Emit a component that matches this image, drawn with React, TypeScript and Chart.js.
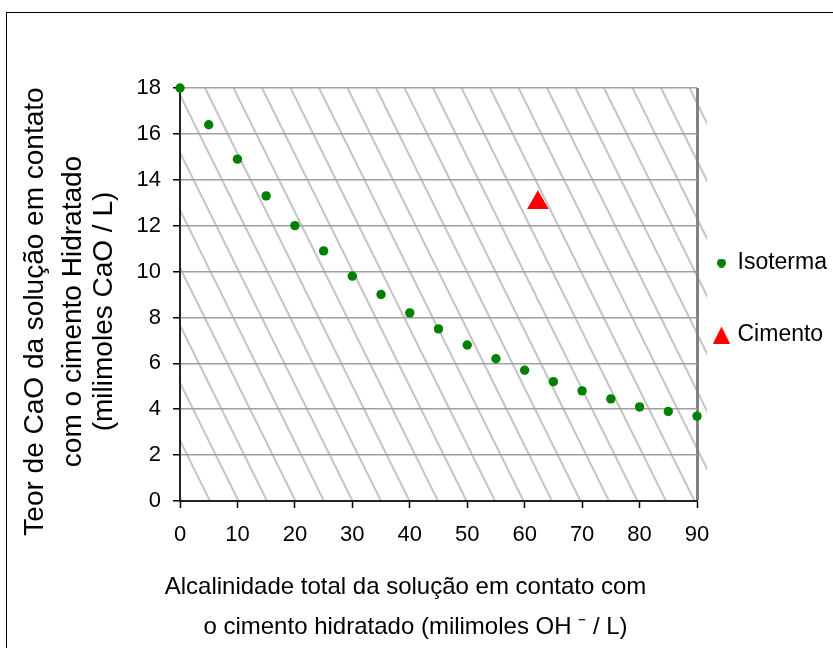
import React, { useEffect, useRef } from "react";
import { Chart, registerables } from "chart.js";

Chart.register(...registerables);

const FONT = "'Liberation Sans', Arial, sans-serif";

// ---- data ----
const isotermaX = [0, 5, 10, 15, 20, 25, 30, 35, 40, 45, 50, 55, 60, 65, 70, 75, 80, 85, 90];
const isotermaY = [18, 16.4, 14.9, 13.3, 12.0, 10.9, 9.8, 9.0, 8.2, 7.5, 6.8, 6.2, 5.7, 5.2, 4.8, 4.45, 4.1, 3.9, 3.7];
const cimentoX = [62.3];
const cimentoY = [13.0];
const seriesNames = ["Isoterma", "Cimento"];
const xTitle = ["Alcalinidade total da solução em contato com", "o cimento hidratado (milimoles OH \u207B / L)"];
const yTitle = ["Teor de CaO da solução em contato", "com o cimento Hidratado", "(milimoles CaO / L)"];
const xMin = 0, xMax = 90, xStep = 10;
const yMin = 0, yMax = 18, yStep = 2;

function makeDot(): HTMLCanvasElement {
  const c = document.createElement("canvas");
  c.width = 9; c.height = 9;
  const g = c.getContext("2d")!;
  g.fillStyle = "#008000";
  g.beginPath(); g.arc(4.5, 4.5, 4.5, 0, Math.PI * 2); g.fill();
  return c;
}
function makeTri(): HTMLCanvasElement {
  const c = document.createElement("canvas");
  c.width = 17; c.height = 17;
  const g = c.getContext("2d")!;
  g.fillStyle = "#ff0000";
  g.beginPath(); g.moveTo(8.5, 0); g.lineTo(17, 17); g.lineTo(0, 17); g.closePath(); g.fill();
  return c;
}

const hatchPlugin = {
  id: "hatch",
  beforeDraw(chart: any) {
    const { ctx, chartArea: a } = chart;
    const ext = 10;
    ctx.save();
    ctx.beginPath();
    ctx.rect(a.left, a.top, a.right - a.left + ext, a.bottom - a.top);
    ctx.clip();
    ctx.strokeStyle = "#c4c4c4";
    ctx.lineWidth = 2;
    const h = a.bottom - a.top;
    const slope = 2.02;
    const step = 28.5;
    const run = h / slope;
    ctx.beginPath();
    for (let xb = a.left + (30 % step); xb < a.right + ext + run + step; xb += step) {
      ctx.moveTo(xb, a.bottom);
      ctx.lineTo(xb - run, a.top);
    }
    ctx.stroke();
    ctx.restore();
  },
};

const titlePlugin = {
  id: "axisTitles",
  afterDraw(chart: any) {
    const { ctx, chartArea: a } = chart;
    ctx.save();
    ctx.fillStyle = "#000";
    ctx.font = `24px ${FONT}`;
    ctx.textAlign = "center";
    ctx.textBaseline = "middle";
    const cx = (a.left + a.right) / 2;
    const xOff = [-33, -23];
    xTitle.forEach((t, i) => ctx.fillText(t, cx + xOff[i], a.bottom + 86.5 + i * 40));
    ctx.font = `28px ${FONT}`;
    ctx.textBaseline = "alphabetic";
    ctx.translate(0, (a.top + a.bottom) / 2 + 17);
    ctx.rotate(-Math.PI / 2);
    const base = [43, 81, 112];
    yTitle.forEach((t, i) => ctx.fillText(t, 0, base[i]));
    ctx.restore();
  },
};

export default function App() {
  const ref = useRef<HTMLCanvasElement>(null);
  useEffect(() => {
    if (!ref.current) return;
    const dot = makeDot();
    const tri = makeTri();
    const chart = new Chart(ref.current, {
      type: "scatter",
      data: {
        datasets: [
          {
            label: seriesNames[0],
            data: isotermaX.map((x, i) => ({ x, y: isotermaY[i] })),
            pointStyle: "circle",
            pointRadius: 4.7,
            backgroundColor: "#008000",
            borderWidth: 0,
            clip: false,
          },
          {
            label: seriesNames[1],
            data: cimentoX.map((x, i) => ({ x, y: cimentoY[i] })),
            pointStyle: "triangle",
            pointRadius: 12.5,
            backgroundColor: "#ff0000",
            borderWidth: 0,
            clip: false,
          },
        ],
      },
      options: {
        responsive: false,
        animation: false,
        layout: { padding: { top: 88, bottom: 99, left: 0, right: 0 } },
        plugins: {
          tooltip: { enabled: false },
          legend: {
            position: "right",
            align: "center",
            fullSize: false,
            maxWidth: 136,
            title: { display: true, text: " ", padding: 0, font: { family: FONT, size: 19, lineHeight: 2 } },
            labels: {
              usePointStyle: true,
              boxWidth: 9,
              boxHeight: 9,
              padding: 20,
              color: "#000",
              font: { family: FONT, size: 23, lineHeight: 52 / 23 },
              generateLabels: () => [
                { text: [seriesNames[0]], pointStyle: dot, fillStyle: "#008000", strokeStyle: "#008000", lineWidth: 0, hidden: false, datasetIndex: 0, fontColor: "#000" },
                { text: [seriesNames[1]], pointStyle: tri, fillStyle: "#ff0000", strokeStyle: "#ff0000", lineWidth: 0, hidden: false, datasetIndex: 1, fontColor: "#000" },
              ] as any,
            },
          },
        },
        scales: {
          x: {
            type: "linear",
            min: xMin,
            max: xMax,
            afterFit: (s: any) => { s.height = 48; },
            ticks: { stepSize: xStep, color: "#000", font: { family: FONT, size: 22 }, padding: 14 },
            grid: {
              color: (c: any) => (c.tick && c.tick.value === xMax ? "#808080" : "rgba(0,0,0,0)"),
              lineWidth: (c: any) => (c.tick && c.tick.value === xMax ? 3 : 1),
              tickLength: 7,
              tickColor: "#000",
              tickWidth: 1.5,
            },
            border: { color: "#222", width: 2 },
          },
          y: {
            type: "linear",
            min: yMin,
            max: yMax,
            afterFit: (s: any) => { s.width = 180; },
            ticks: { stepSize: yStep, color: "#000", font: { family: FONT, size: 22 }, padding: 12 },
            grid: { color: "#a0a0a0", lineWidth: 1.5, tickLength: 7, tickColor: "#000", tickWidth: 1.5 },
            border: { color: "#222", width: 2 },
          },
        },
      },
      plugins: [hatchPlugin, titlePlugin],
    } as any);
    return () => chart.destroy();
  }, []);

  return (
    <div style={{ position: "fixed", left: 0, top: 0, width: 833, height: 648, overflow: "hidden", background: "#fff" }}>
      <div style={{ position: "absolute", left: 6, top: 12, width: 900, height: 700, border: "1px solid #000", boxSizing: "border-box" }} />
      <canvas ref={ref} width={833} height={648} style={{ position: "absolute", left: 0, top: 0, width: 833, height: 648 }} />
    </div>
  );
}
